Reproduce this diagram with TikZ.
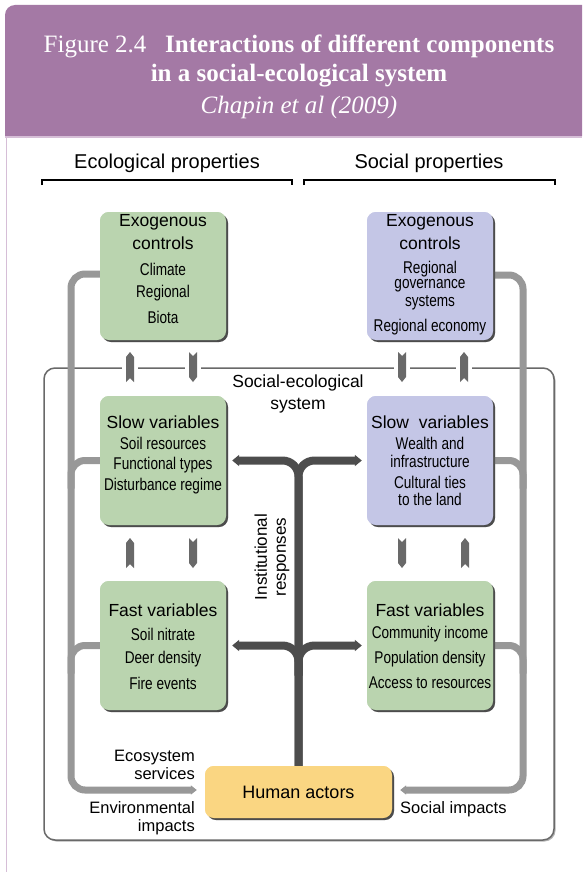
\documentclass[tikz,border=0pt]{standalone}
\usepackage{fontspec}
\setmainfont{Liberation Sans}
\newfontfamily\narrowsans[FakeStretch=0.8]{Liberation Sans}
\newfontfamily\captionserif{Liberation Serif}
\usetikzlibrary{arrows.meta,shadows}

\definecolor{hdrpurple}{RGB}{164,121,165}
\definecolor{panelpink}{RGB}{214,190,215}
\definecolor{ecogreen}{RGB}{186,212,175}
\definecolor{socblue}{RGB}{196,198,230}
\definecolor{actoryellow}{RGB}{250,214,130}
\definecolor{flowgray}{RGB}{152,152,152}
\definecolor{respdark}{RGB}{77,77,77}
\definecolor{tickgray}{RGB}{105,105,105}
\definecolor{sysedge}{RGB}{105,105,105}

\begin{document}
\begin{tikzpicture}[x=1pt,y=-1pt,
  box/.style={rectangle, rounded corners=9pt, minimum width=126pt,
    minimum height=128pt, inner sep=0pt,
    drop shadow={shadow xshift=2pt, shadow yshift=-2pt, fill=black, opacity=0.45}},
  greenbox/.style={box, fill=ecogreen},
  bluebox/.style={box, fill=socblue},
  actorbox/.style={box, fill=actoryellow, minimum width=187pt, minimum height=52pt},
  sysbox/.style={rectangle, rounded corners=11pt, draw=sysedge, line width=1.5pt,
    fill=white, minimum width=510pt, minimum height=472pt, inner sep=0pt,
    drop shadow={shadow xshift=1.5pt, shadow yshift=-1.5pt, fill=black, opacity=0.3}},
  boxtitle/.style={font=\fontsize{17.5}{20}\selectfont, inner sep=0pt},
  boxitem/.style={font=\narrowsans\fontsize{17}{19}\selectfont, inner sep=0pt},
  plainlabel/.style={font=\fontsize{16.5}{17.5}\selectfont, inner sep=0pt},
  headtext/.style={font=\captionserif\fontsize{25}{30}\selectfont, text=white, inner sep=0pt},
  colhead/.style={font=\fontsize{20}{24}\selectfont, inner sep=0pt},
  bracketline/.style={draw=black, line width=1.2pt},
  panelline/.style={draw=panelpink, line width=1.5pt},
  grayflow/.style={draw=flowgray, line width=7pt, rounded corners=14pt},
  grayarrow/.style={grayflow, -{Triangle[length=6pt, width=9pt]}},
  darkflow/.style={draw=respdark, line width=8pt, rounded corners=16pt,
    -{Triangle[length=7pt, width=11pt]}},
  uparr/.pic={\fill[tickgray] (0,-15) -- (4,-10) -- (4,15) -- (0,11) -- (-4,15) -- (-4,-10) -- cycle;},
  downarr/.pic={\fill[tickgray] (0,15) -- (4,10) -- (4,-15) -- (0,-11) -- (-4,-15) -- (-4,10) -- cycle;}
]
\useasboundingbox (0,0) rectangle (582,872);
\fill[white] (0,0) rectangle (582,872);

% caption band and panel edge
\fill[hdrpurple] (5,136) [rounded corners=10pt] -- (5,5) [sharp corners] -- (582,5) -- (582,136) -- cycle;
\draw[panelline] (5,137) -- (582,137);
\draw[panelline] (6.5,137) -- (6.5,872);

\node[headtext] (cap1) at (299,46) {Figure 2.4\hspace{0.5em} \textbf{Interactions of different components}};
\node[headtext] (cap2) at (299,76) {\textbf{in a social-ecological system}};
\node[headtext] (cap3) at (299,107) {\textit{Chapin et al (2009)}};

% column headings
\node[colhead] (ecohead) at (167,163) {Ecological properties};
\node[colhead] (sochead) at (429,163) {Social properties};
\draw[bracketline] (42,185) -- (42,180) -- (292,180) -- (292,185);
\draw[bracketline] (304,185) -- (304,180) -- (555,180) -- (555,185);

% the social-ecological system frame
\node[sysbox] (sys) at (299,604) {};
\node[font=\fontsize{17.5}{22}\selectfont, align=center, inner sep=0pt] (systitle) at (298,394)
  {Social-ecological\\system};

% component boxes
\node[greenbox] (exoL) at (163,276) {};
\node[bluebox] (exoR) at (430,276) {};
\node[greenbox, minimum height=129pt] (slowL) at (163,460.5) {};
\node[bluebox, minimum height=129pt] (slowR) at (430,460.5) {};
\node[greenbox, minimum height=129pt] (fastL) at (163,645.5) {};
\node[greenbox, minimum height=129pt] (fastR) at (430,645.5) {};
\node[actorbox] (human) at (298.5,792) {};

% rails of the feedback loops
\coordinate (railL) at (71,790);
\coordinate (railR) at (523,790);

% ecosystem services / environmental impacts loop
\draw[grayflow] (slowL.west) -- (railL |- slowL.west) -- ++(0,28);
\draw[grayflow] (fastL.west) -- (railL |- fastL.west) -- ++(0,28);
\draw[grayarrow] ([yshift=2pt]exoL.west) -- ([yshift=2pt]railL |- exoL.west) -- (railL) -- ([xshift=-8pt]railL -| human.west);

% social impacts loop
\draw[grayflow] (slowR.east) -- (railR |- slowR.east) -- ++(0,28);
\draw[grayflow] (fastR.east) -- (railR |- fastR.east) -- ++(0,28);
\draw[grayarrow] ([yshift=1pt]exoR.east) -- ([yshift=1pt]railR |- exoR.east) -- (railR) -- ([xshift=8pt]railR -| human.east);

% institutional responses
\coordinate (tTop) at (human.north |- slowL.east);
\coordinate (tMid) at (human.north |- fastL.east);
\draw[darkflow] (human.north) -- (tTop) -- ([xshift=6pt]slowL.east);
\draw[darkflow] (human.north) -- (tTop) -- ([xshift=-5pt]slowR.west);
\draw[darkflow] ([yshift=-30pt]tMid) -- (tMid) -- ([xshift=6pt]fastL.east);
\draw[darkflow] ([yshift=-30pt]tMid) -- (tMid) -- ([xshift=-5pt]fastR.west);

% redraw boxes above the loop ends
\node[greenbox] (exoLtop) at (exoL) {};
\node[bluebox] (exoRtop) at (exoR) {};
\node[greenbox, minimum height=129pt] (slowLtop) at (slowL) {};
\node[bluebox, minimum height=129pt] (slowRtop) at (slowR) {};
\node[greenbox, minimum height=129pt] (fastLtop) at (fastL) {};
\node[greenbox, minimum height=129pt] (fastRtop) at (fastR) {};
\node[actorbox] (humantop) at (human) {};

% cross-scale exchanges
\foreach \xx in {130,193,402,464} \fill[white] (\xx-8,363) rectangle (\xx+8,373);
\pic at (130,367) {uparr};
\pic at (193,367) {downarr};
\pic at (402,367) {downarr};
\pic at (464,367) {uparr};
\pic at (130,553) {uparr};
\pic at (193,553) {downarr};
\pic at (402,553) {downarr};
\pic at (465,553) {uparr};

% box texts
\foreach \nm/\xx/\yy/\txt in {tA/163/222/Exogenous, tB/163/243/controls,
    tC/430/222/Exogenous, tD/430/243/controls,
    tE/163/422/Slow variables, tF/430/422/Slow~~variables,
    tG/163/610/Fast variables, tH/430/610/Fast variables}
  \node[boxtitle] (\nm) at (\xx,\yy) {\txt};

\foreach \nm/\xx/\yy/\txt in {iA/163/269/Climate, iB/163/293/Regional, iC/163/317/Biota,
    iD/430/269/Regional, iE/430/286/governance, iF/430/303/systems, iG/430/327/Regional economy,
    iH/163/443/Soil resources, iI/163/465/Functional types, iJ/163/486/Disturbance regime,
    iK/430/443/Wealth and, iL/430/461/infrastructure, iM/430/482/Cultural ties, iN/430/499/to the land,
    iO/163/634/Soil nitrate, iP/163/659/Deer density, iQ/163/683/Fire events,
    iR/430/634/Community income, iS/430/659/Population density, iT/430/683/Access to resources}
  \node[boxitem] (\nm) at (\xx,\yy) {\txt};

\node[font=\fontsize{18}{20}\selectfont, inner sep=0pt] (humanlabel) at (human) {Human actors};

% loop labels
\node[plainlabel, align=right, anchor=east] (esl) at (195,765) {Ecosystem\\services};
\node[plainlabel, align=right, anchor=east] (eil) at (195,818) {Environmental\\impacts};
\node[plainlabel, anchor=west] (sil) at (400,809) {Social impacts};
\node[font=\fontsize{17}{19}\selectfont, rotate=90, align=center, inner sep=0pt] (irl) at (272,557)
  {Institutional\\responses};
\end{tikzpicture}
\end{document}
